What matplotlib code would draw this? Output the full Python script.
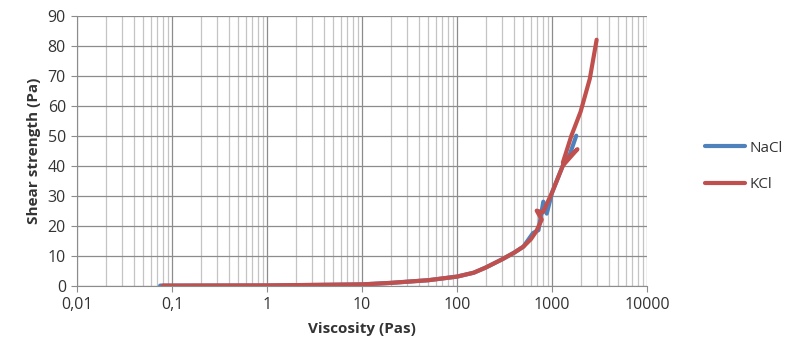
import numpy as np
import matplotlib.pyplot as plt
from matplotlib.ticker import FixedLocator, FuncFormatter, LogLocator, NullFormatter

plt.rcParams['font.family'] = ['Open Sans', 'DejaVu Sans']

# Вязкость (Па·с) и предел прочности на сдвиг (Па)
nacl_visc = [0.075, 0.1, 1, 10, 20, 50, 100, 150, 200, 300, 400, 500, 630, 720, 810, 880,
             1000, 1300, 1550, 1800]
nacl_shear = [0, 0, 0.05, 0.4, 0.9, 1.8, 3, 4.3, 6, 8.8, 11, 13, 17.5, 18.5, 28, 24,
              31, 40, 44, 50]

kcl_visc = [0.08, 0.1, 1, 10, 20, 50, 100, 150, 200, 300, 400, 500, 600, 680, 780, 690,
            800, 1000, 1300, 1850, 1300, 1600, 2000, 2500, 2950]
kcl_shear = [0, 0, 0.05, 0.4, 0.9, 1.8, 3, 4.3, 6, 8.8, 11, 13, 15.5, 18, 22, 25,
             24.4, 31, 40, 45.5, 41, 50, 58, 69, 82]

x_ticks = [0.01, 0.1, 1, 10, 100, 1000, 10000]
x_labels = ["0,01", "0,1", "1", "10", "100", "1000", "10000"]

fig = plt.figure(figsize=(7.9, 3.5), dpi=100)
ax = fig.add_axes([0.0975, 0.184, 0.7215, 0.771])

ax.plot(nacl_visc, nacl_shear, color="#4F81BD", lw=3.0, label="NaCl", solid_capstyle="round",
        solid_joinstyle="round")
ax.plot(kcl_visc, kcl_shear, color="#C0504D", lw=3.0, label="KCl", solid_capstyle="round",
        solid_joinstyle="round")

ax.set_xscale("log")
ax.set_xlim(0.01, 10000)
ax.set_ylim(0, 90)
ax.set_yticks(np.arange(0, 91, 10))
ax.xaxis.set_major_locator(FixedLocator(x_ticks))
ax.xaxis.set_major_formatter(FuncFormatter(lambda v, p: x_labels[x_ticks.index(v)] if v in x_ticks else ""))
ax.xaxis.set_minor_locator(LogLocator(base=10, subs=np.arange(2, 10), numticks=20))
ax.xaxis.set_minor_formatter(NullFormatter())

ax.grid(True, which="major", color="#8c8c8c", lw=0.9)
ax.grid(True, which="minor", axis="x", color="#c4c4c4", lw=0.9)
ax.set_axisbelow(True)

for s in ["top", "right"]:
    ax.spines[s].set_visible(False)
for s in ["left", "bottom"]:
    ax.spines[s].set_color("#8c8c8c")
ax.tick_params(axis="both", which="major", length=4, color="#8c8c8c", labelsize=11.5,
               labelcolor="#333333", pad=4)
ax.tick_params(axis="x", which="minor", length=0)

ax.set_xlabel("Viscosity (Pas)", fontsize=11, fontweight="bold", color="#333333", labelpad=7)
ax.set_ylabel("Shear strength (Pa)", fontsize=11, fontweight="bold", color="#333333", labelpad=5)

fig.legend(loc="center left", bbox_to_anchor=(0.875, 0.525), frameon=False, fontsize=11,
           handlelength=2.6, labelspacing=1.4, handletextpad=0.3, labelcolor="#333333")

fig.savefig("out.png", dpi=100)
